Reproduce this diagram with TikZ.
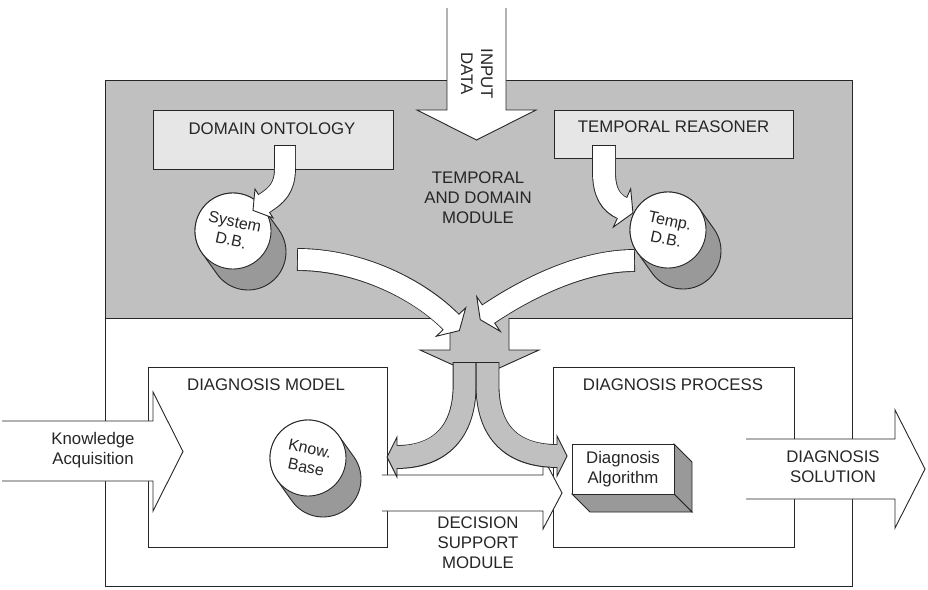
\documentclass[tikz,border=0pt]{standalone}
\usepackage{fontspec}
\setmainfont{Liberation Sans}
\usetikzlibrary{calc}
\definecolor{lc}{HTML}{262626}
\definecolor{modgray}{HTML}{C0C0C0}
\definecolor{lightbox}{HTML}{E6E6E6}
\definecolor{dbgray}{HTML}{999999}
\newcommand\mainfnt{\fontsize{16.8}{20}\selectfont}
\newcommand\dbfnt{\fontsize{16}{19}\selectfont}
% #1 fill, #2 shaft width, #3 path, #4 end point, #5 last control, #6 head half width, #7 head length
\newcommand\fatarrow[7]{%
  \draw[line width=#2+1.8pt, draw=lc, shorten <=-0.9pt] #3;
  \coordinate (fa-tip) at ($#4!-#7!#5$);
  \coordinate (fa-b1) at ($#4!#6!90:#5$);
  \coordinate (fa-b2) at ($#4!#6!-90:#5$);
  \filldraw[fill=#1, draw=lc, line width=0.9pt, line join=miter] (fa-b1) -- (fa-tip) -- (fa-b2) -- cycle;
  \draw[line width=#2, draw=#1, shorten >=-2pt] #3;
}
% #1 centre, #2 name, #3 text
\newcommand\dbcyl[3]{%
  \filldraw[fill=dbgray, draw=lc, line width=0.9pt] #1 ++(-35.54:38) -- ++(15,21)
     arc[start angle=-35.54, end angle=144.46, radius=38] -- ++(-15,-21)
     arc[start angle=144.46, end angle=324.46, radius=38] -- cycle;
  \node[dbtop] (#2) at #1 {#3};
}
\begin{document}
\begin{tikzpicture}[x=1pt, y=-1pt,
  outline/.style={draw=lc, line width=0.9pt, line join=miter},
  frame/.style={outline, rectangle, inner sep=0pt},
  lbl/.style={font=\mainfnt, inner sep=0pt, align=center, text=lc},
  dbtop/.style={outline, circle, fill=white, minimum size=76pt, inner sep=0pt, align=center, font=\dbfnt, rotate=-12, text=lc},
]
\useasboundingbox (0,0) rectangle (928,589);
% modules
\node[frame, fill=modgray, minimum width=747pt, minimum height=238pt] (tdm) at (479,199) {};
\node[frame, fill=white, minimum width=747pt, minimum height=268pt] (dsm) at (479,452) {};
% central grey arrow
\fill[modgray] (450,317) -- (450,350) -- (420,350) -- (479.5,377) -- (539,350) -- (509,350) -- (509,317) -- cycle;
\draw[outline] (450,318) -- (450,350) -- (420,350) -- (479.5,377) -- (539,350) -- (509,350) -- (509,318);
% upper boxes
\node[frame, fill=lightbox, minimum width=240pt, minimum height=59.5pt] (onto) at (273,139.75) {};
\node[frame, fill=lightbox, minimum width=239pt, minimum height=48pt] (treas) at (673.5,134) {};
\node[lbl] (ontolabel) at (272,128.5) {DOMAIN ONTOLOGY};
\node[lbl] (treaslabel) at (673.5,127) {TEMPORAL REASONER};
% input data arrow
\fill[white] (447,8) -- (447,110) -- (417,110) -- (476.5,140) -- (536,110) -- (506,110) -- (506,8) -- cycle;
\draw[outline] (447,8) -- (447,110) -- (417,110) -- (476.5,140) -- (536,110) -- (506,110) -- (506,8);
\node[lbl, rotate=-90] (input) at (477,74) {INPUT\\DATA};
% databases
\dbcyl{(233,231)}{sysdb}{System\\D.B.}
\dbcyl{(668,230)}{tempdb}{Temp.\\D.B.}
% curved arrows in upper module
\fatarrow{white}{20pt}{(285,146) -- (285,168) .. controls (285,188) and (276.8,195.5) .. (264,203.5)}{(264,203.5)}{(276.8,195.5)}{17pt}{13pt}
\fatarrow{white}{22pt}{(604,146) -- (604,172) .. controls (604,193) and (611,203) .. (622,208)}{(622,208)}{(611,203)}{21pt}{12pt}
\fatarrow{white}{21pt}{(298,259.5) .. controls (360,259.5) and (420,290) .. (451,322)}{(451,322)}{(420,290)}{20.5pt}{12pt}
\fatarrow{white}{21pt}{(634,260.5) .. controls (575,260.5) and (515,296) .. (488.5,314)}{(488.5,314)}{(515,296)}{21pt}{10pt}
\node[lbl] (tdmlabel) at (478,198) {TEMPORAL\\AND DOMAIN\\MODULE};
% lower boxes
\node[frame, fill=white, minimum width=239pt, minimum height=180pt] (dmodel) at (267.5,457) {};
\node[frame, fill=white, minimum width=241pt, minimum height=180pt] (dproc) at (673.5,457) {};
\node[lbl] (dmodellabel) at (266,384.5) {DIAGNOSIS MODEL};
\node[lbl] (dproclabel) at (673,384.5) {DIAGNOSIS PROCESS};
\dbcyl{(308,458)}{kbase}{Know.\\Base}
% diagnosis algorithm block
\filldraw[outline, fill=dbgray] (674,444) -- (692,462) -- (692,512) -- (674,494) -- cycle;
\filldraw[outline, fill=dbgray] (572,494) -- (674,494) -- (692,512) -- (590,512) -- cycle;
\node[frame, fill=white, minimum width=102pt, minimum height=50pt, align=center, font=\mainfnt, text=lc] (algo) at (623,469) {Diagnosis\\Algorithm};
% knowledge acquisition
\fill[white] (2,421) -- (153,421) -- (153,392) -- (183,451.5) -- (153,511) -- (153,481) -- (2,481) -- cycle;
\draw[outline] (2,421) -- (153,421) -- (153,392) -- (183,451.5) -- (153,511) -- (153,481) -- (2,481);
\node[lbl] (kacq) at (93,450) {Knowledge\\Acquisition};
% decision support arrow
\fill[white] (382,475) -- (543,475) -- (543,457) -- (562,493) -- (543,529) -- (543,511) -- (382,511) -- cycle;
\draw[outline] (382,475) -- (543,475) -- (543,457) -- (562,493) -- (543,529) -- (543,511) -- (382,511);
\node[lbl] (dsmlabel) at (478,543) {DECISION\\SUPPORT\\MODULE};
% diagnosis solution
\fill[white] (746,439) -- (895,439) -- (895,410) -- (925,469) -- (895,528) -- (895,499) -- (746,499) -- cycle;
\draw[outline] (746,439) -- (895,439) -- (895,410) -- (925,469) -- (895,528) -- (895,499) -- (746,499);
\node[lbl] (dsol) at (833,467) {DIAGNOSIS\\SOLUTION};
% split grey arrows
\fatarrow{modgray}{22pt}{(464.6,363) -- (464.6,385) .. controls (464.6,432) and (440,457) .. (397,457)}{(397,457)}{(440,457)}{20pt}{10pt}
\fatarrow{modgray}{22pt}{(487.5,363) -- (487.5,385) .. controls (487.5,432) and (512,456) .. (557,456)}{(557,456)}{(512,456)}{20pt}{10pt}
\end{tikzpicture}
\end{document}
